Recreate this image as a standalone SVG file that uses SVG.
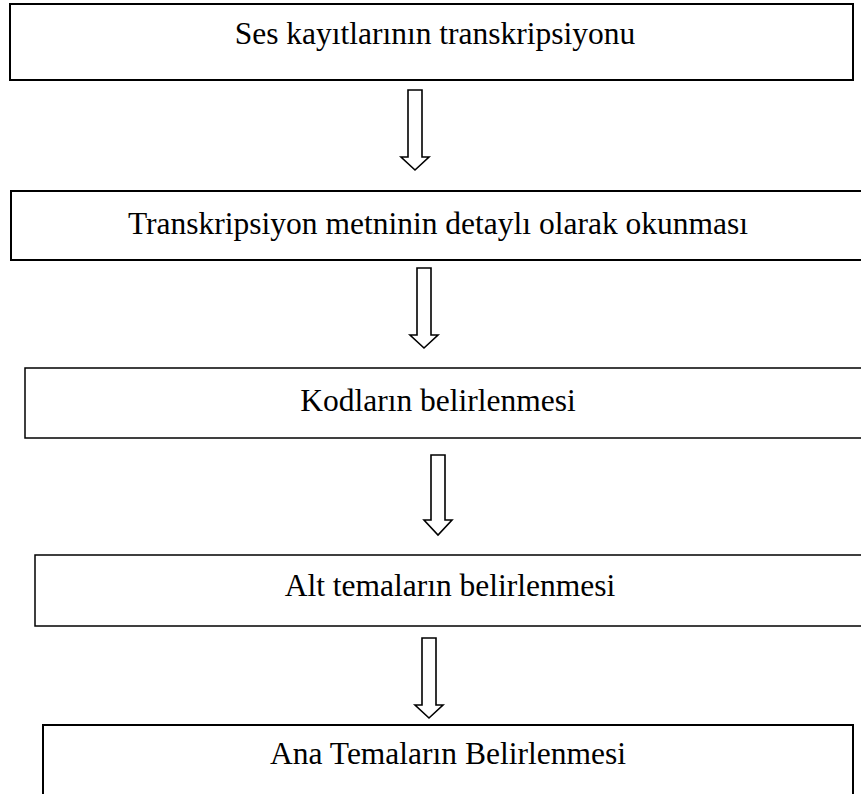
<svg xmlns="http://www.w3.org/2000/svg" width="861" height="794" viewBox="0 0 861 794">
<style>
.box{fill:#fff;stroke:#000;stroke-width:2}
.thin{stroke-width:1.5}
.lbl{font-family:"Liberation Serif","Times New Roman",serif;font-size:31.5px;fill:#000;text-anchor:middle}
.arr{fill:#fff;stroke:#000;stroke-width:1.6;stroke-linejoin:miter}
</style>
<rect width="861" height="794" fill="#fff"/>
<g id="connectors">
<path class="arr" d="M408,90 H422 V157 H429 L415,170 L401,157 H408 Z"/>
<path class="arr" d="M417,268 H431 V335 H438 L424,348 L410,335 H417 Z"/>
<path class="arr" d="M431,455 H445 V520 H452 L438,535 L424,520 H431 Z"/>
<path class="arr" d="M422,638 H436 V705 H443 L429,718 L415,705 H422 Z"/>
</g>
<g id="node1">
<rect class="box" x="10" y="4" width="843" height="76"/>
<text class="lbl" x="435" y="44">Ses kayıtlarının transkripsiyonu</text>
</g>
<g id="node2">
<rect class="box" x="11" y="191" width="860" height="69"/>
<text class="lbl" x="438" y="234">Transkripsiyon metninin detaylı olarak okunması</text>
</g>
<g id="node3">
<rect class="box thin" x="25" y="368" width="846" height="70"/>
<text class="lbl" x="438" y="411">Kodların belirlenmesi</text>
</g>
<g id="node4">
<rect class="box thin" x="35" y="555" width="836" height="71"/>
<text class="lbl" x="450" y="596">Alt temaların belirlenmesi</text>
</g>
<g id="node5">
<rect class="box" x="43" y="725" width="810" height="80"/>
<text class="lbl" x="448" y="764">Ana Temaların Belirlenmesi</text>
</g>
</svg>
